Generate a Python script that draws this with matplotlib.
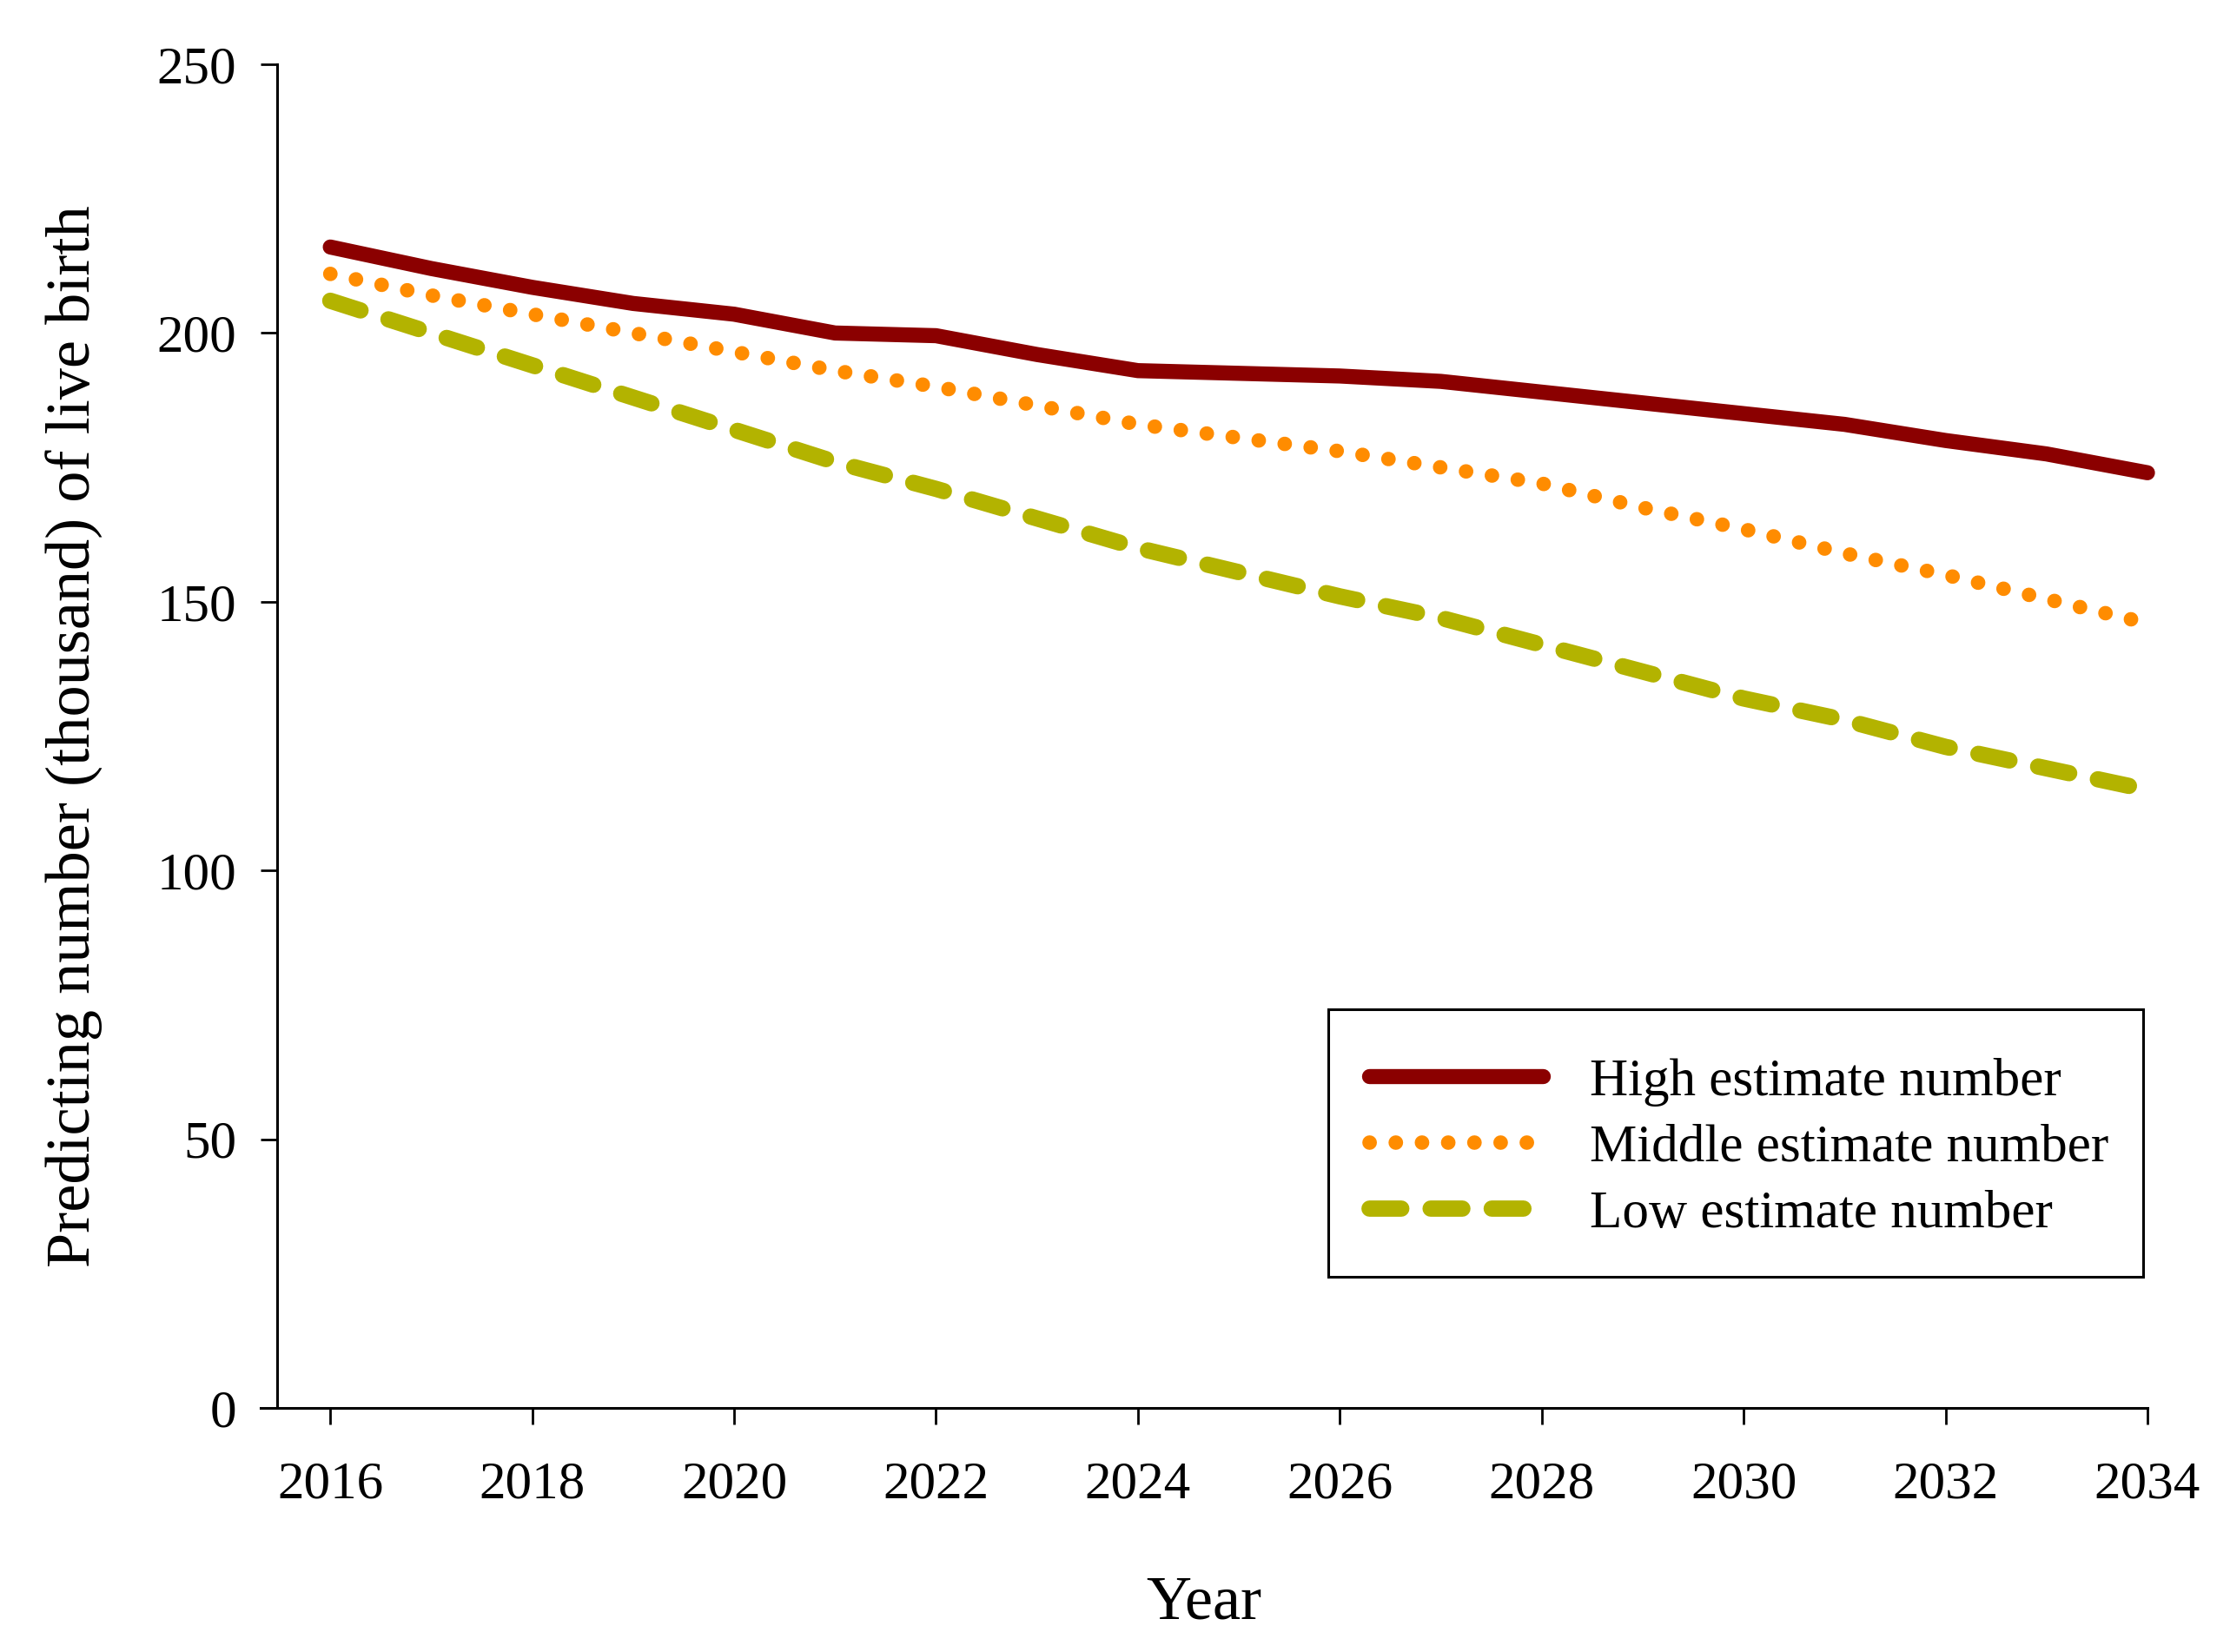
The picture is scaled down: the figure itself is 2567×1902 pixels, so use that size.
import matplotlib
matplotlib.use("Agg")
import matplotlib.pyplot as plt
from matplotlib.patches import Rectangle

years = list(range(2016, 2035))
high = [216, 212, 208.5, 205.5, 203.5, 200, 199.5, 196, 193, 192.5, 192, 191, 189, 187, 185, 183, 180, 177.5, 174]
middle = [211, 207, 203.5, 200, 196.5, 193, 190, 186.5, 183, 180.5, 178, 175, 172, 167.5, 163.5, 159, 155, 150.5, 146]
low = [206, 200, 194, 188, 182, 176, 171, 165.5, 160, 155.5, 151, 147, 142, 137, 132, 128, 123, 119, 115]
labels = ["High estimate number", "Middle estimate number", "Low estimate number"]
xticks = list(range(2016, 2035, 2))
yticks = [0, 50, 100, 150, 200, 250]

plt.rcParams['font.family'] = ['Liberation Serif', 'DejaVu Serif']

fig = plt.figure(figsize=(25.67, 19.02), dpi=100)
ax = fig.add_axes([300/2567, 1 - 1621/1902, (2472-300)/2567, (1621-74)/1902])

ax.plot(years, high, color='#8B0000', lw=12.5, solid_capstyle='round', solid_joinstyle='round',
        label=labels[0], clip_on=False, zorder=3)
ax.plot(years, middle, color='#FF8C00', lw=12, linestyle=(0, (0.01, 1.8)), dash_capstyle='round',
        label=labels[1], clip_on=False, zorder=3)
ax.plot(years, low, color='#B3B300', lw=13.5, linestyle=(0, (1.95, 1.8)), dash_capstyle='round',
        label=labels[2], clip_on=False, zorder=3)

ax.set_xlim(2015.31, 2034)
ax.set_ylim(0, 250)
ax.spines['left'].set_position(('data', 2015.475))
ax.spines['top'].set_visible(False)
ax.spines['right'].set_visible(False)
for s in ['left', 'bottom']:
    ax.spines[s].set_linewidth(2.2)
ax.set_xticks(xticks)
ax.set_yticks(yticks)
ax.tick_params(axis='both', direction='out', length=14, width=2, labelsize=44)
ax.tick_params(axis='x', pad=30)
ax.tick_params(axis='y', pad=20)

ax.set_xlabel("Year", fontsize=52, labelpad=55)
ax.set_ylabel("Predicting number (thousand) of live birth", fontsize=52, labelpad=44)

# legend frame
ax.add_patch(Rectangle((0.5658, 0.0976), 0.9977 - 0.5658, 0.2967 - 0.0976, transform=ax.transAxes,
                       facecolor='white', edgecolor='black', lw=2.2, zorder=4, clip_on=False))
leg = ax.legend(loc='center left', bbox_to_anchor=(0.5877, 0.1935), fontsize=44, frameon=False,
                handlelength=3.26, handletextpad=0.89, labelspacing=0.33, borderpad=0,
                borderaxespad=0)
leg.set_zorder(5)

fig.savefig("out.png", dpi=100, facecolor='white')
